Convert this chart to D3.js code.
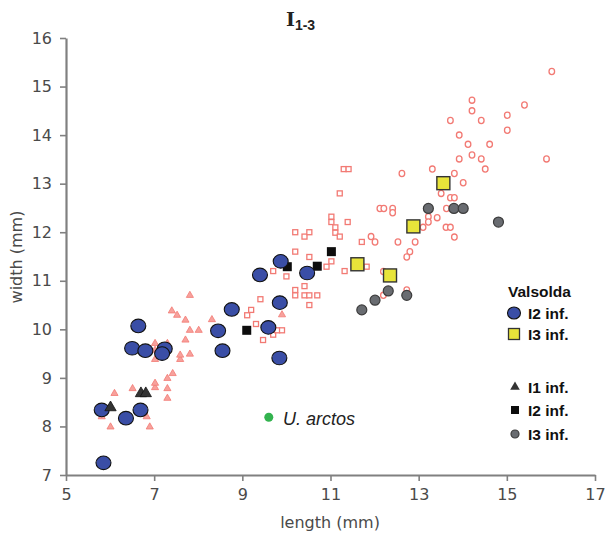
<!DOCTYPE html>
<html>
<head>
<meta charset="utf-8">
<script src="https://cdn.jsdelivr.net/npm/d3@7"></script>
<style>
body { margin: 0; background: #fff; }
</style>
</head>
<body>
<script>
const width = 608, height = 539;

const xTicks = [5, 7, 9, 11, 13, 15, 17];
const yTicks = [7, 8, 9, 10, 11, 12, 13, 14, 15, 16];

// Valsolda
const valsoldaI2 = [
    [5.81, 8.34], [5.85, 7.25], [6.36, 8.17], [6.69, 8.34], [6.64, 10.07], [6.50, 9.61],
    [6.80, 9.56], [7.24, 9.60], [7.18, 9.50], [8.45, 9.97], [8.55, 9.56], [8.76, 10.41],
    [9.59, 10.04], [9.84, 9.41], [9.85, 10.55], [9.40, 11.12], [9.87, 11.40], [10.47, 11.16]
];
const valsoldaI3 = [[13.56, 13.01], [12.88, 12.12], [11.61, 11.34], [12.35, 11.11]];

// other sites
const otherI1 = [[6.01, 8.39], [6.70, 8.68], [6.81, 8.68]];
const otherI2 = [[9.10, 9.98], [10.02, 11.29], [10.70, 11.30], [11.02, 11.60]];
const otherI3 = [
    [13.22, 12.49], [13.80, 12.49], [14.01, 12.49], [14.81, 12.21],
    [11.71, 10.40], [12.01, 10.60], [12.31, 10.79], [12.73, 10.70]
];

const arctos = [[9.60, 8.19]];

// reference samples (pink)
const refI1 = [
    [5.81, 8.20], [6.01, 7.99], [6.10, 8.68], [6.51, 8.78], [6.83, 8.20], [6.90, 7.99],
    [7.02, 8.80], [7.02, 8.89], [7.30, 8.58], [7.30, 8.78], [7.30, 8.99], [7.42, 9.09],
    [7.02, 9.38], [7.02, 9.57], [7.02, 9.71], [7.30, 9.71], [7.59, 9.38], [7.59, 9.47],
    [7.81, 9.49], [7.71, 9.78], [7.81, 9.98], [8.01, 9.98], [7.71, 10.19], [7.52, 10.29],
    [7.40, 10.38], [7.81, 10.70], [8.31, 10.20], [9.90, 10.30]
];
const refI2 = [
    [9.11, 10.29], [9.20, 10.40], [9.31, 10.11], [9.41, 10.62], [9.47, 9.78], [9.70, 9.89],
    [9.79, 9.98], [9.90, 9.98], [9.70, 11.20], [10.00, 11.09], [10.20, 10.81], [10.20, 10.70],
    [10.41, 10.70], [10.52, 10.70], [10.70, 10.70], [10.41, 10.89], [10.52, 10.50], [10.20, 11.60],
    [10.52, 11.49], [10.20, 12.00], [10.41, 11.91], [10.52, 12.00], [10.91, 11.29], [11.02, 11.40],
    [11.32, 11.20], [11.02, 12.32], [11.02, 12.21], [11.11, 12.10], [11.11, 11.99], [11.21, 11.91],
    [11.39, 12.21], [11.21, 12.80], [11.30, 13.30], [11.41, 13.30], [11.71, 11.80], [11.82, 11.29]
];
const refI3 = [
    [11.92, 11.91], [12.01, 11.80], [12.12, 12.49], [12.21, 12.49], [12.41, 12.49], [12.41, 12.40],
    [12.20, 11.19], [12.20, 10.70], [12.73, 10.81], [12.53, 11.80], [12.92, 11.80], [12.80, 11.60],
    [12.73, 11.49], [12.62, 13.21], [13.10, 12.10], [13.22, 12.32], [13.22, 12.21], [13.42, 12.30],
    [13.63, 12.49], [13.62, 12.10], [13.72, 12.10], [13.81, 11.90], [13.51, 12.80], [13.72, 12.71],
    [13.81, 12.71], [14.01, 13.02], [13.81, 13.21], [13.31, 13.30], [13.92, 13.51], [14.42, 13.51],
    [14.51, 13.30], [14.21, 13.59], [14.12, 13.81], [14.61, 13.81], [13.92, 14.00], [13.72, 14.30],
    [14.42, 14.30], [14.21, 14.50], [14.21, 14.72], [15.01, 14.41], [15.01, 14.10], [15.40, 14.62],
    [16.02, 15.31], [15.90, 13.51]
];

const PINK = "#f27a74";

const svg = d3.select("body").append("svg")
    .attr("width", width)
    .attr("height", height)
    .style("font-family", "'DejaVu Sans', Verdana, sans-serif");

const x = d3.scaleLinear().domain([5, 17]).range([66, 595]);
const y = d3.scaleLinear().domain([7, 16]).range([475, 38]);

// axes
const xAxis = svg.append("g")
    .attr("transform", "translate(0," + y(7) + ")")
    .call(d3.axisBottom(x).tickValues(xTicks).tickSize(6).tickSizeOuter(0).tickPadding(8));
const yAxis = svg.append("g")
    .attr("transform", "translate(" + x(5) + ",0)")
    .call(d3.axisLeft(y).tickValues(yTicks).tickSize(6).tickSizeOuter(0).tickPadding(8));

[xAxis, yAxis].forEach(function(a) {
    a.select(".domain").attr("stroke", "#808080").attr("stroke-width", 2.2);
    a.selectAll(".tick line").attr("stroke", "#808080").attr("stroke-width", 1.6);
    a.selectAll(".tick text")
        .attr("fill", "#4a4a4a")
        .style("font-size", "16px")
        .style("font-family", "'DejaVu Sans', Verdana, sans-serif");
});

svg.append("text")
    .attr("x", 330).attr("y", 528)
    .attr("text-anchor", "middle")
    .attr("fill", "#4a4a4a")
    .style("font-size", "16px")
    .text("length (mm)");

svg.append("text")
    .attr("transform", "translate(22,257) rotate(-90)")
    .attr("text-anchor", "middle")
    .attr("fill", "#4a4a4a")
    .style("font-size", "16px")
    .text("width (mm)");

// title
const title = svg.append("text")
    .attr("x", 286).attr("y", 26)
    .attr("fill", "#222")
    .style("font-weight", "bold");
title.append("tspan")
    .style("font-family", "'DejaVu Serif', serif")
    .style("font-size", "19px")
    .text("I");
title.append("tspan")
    .attr("dy", 4)
    .style("font-family", "'Liberation Sans', Arial, sans-serif")
    .style("font-size", "14px")
    .text("1-3");

const plot = svg.append("g");

// pink reference markers
plot.selectAll(".refI1")
    .data(refI1)
    .enter().append("path")
    .attr("d", d3.symbol().type(d3.symbolTriangle).size(22))
    .attr("transform", function(d) { return "translate(" + x(d[0]) + "," + y(d[1]) + ")"; })
    .attr("fill", "#f7a19c")
    .attr("stroke", PINK)
    .attr("stroke-width", 0.8);

plot.selectAll(".refI2")
    .data(refI2)
    .enter().append("rect")
    .attr("x", function(d) { return x(d[0]) - 2.5; })
    .attr("y", function(d) { return y(d[1]) - 2.5; })
    .attr("width", 5).attr("height", 5)
    .attr("fill", "#fff")
    .attr("stroke", PINK)
    .attr("stroke-width", 1.3);

plot.selectAll(".refI3")
    .data(refI3)
    .enter().append("ellipse")
    .attr("cx", function(d) { return x(d[0]); })
    .attr("cy", function(d) { return y(d[1]); })
    .attr("rx", 2.8).attr("ry", 3.1)
    .attr("fill", "#fff")
    .attr("stroke", PINK)
    .attr("stroke-width", 1.3);

// U. arctos
plot.selectAll(".arctos")
    .data(arctos)
    .enter().append("circle")
    .attr("cx", function(d) { return x(d[0]); })
    .attr("cy", function(d) { return y(d[1]); })
    .attr("r", 4.5)
    .attr("fill", "#33b34f");
svg.append("text")
    .attr("x", 283).attr("y", 425)
    .attr("fill", "#222")
    .style("font-family", "'Liberation Sans', Arial, sans-serif")
    .style("font-style", "italic")
    .style("font-size", "18px")
    .text("U. arctos");

// other sites
plot.selectAll(".otherI2")
    .data(otherI2)
    .enter().append("rect")
    .attr("x", function(d) { return x(d[0]) - 4.5; })
    .attr("y", function(d) { return y(d[1]) - 4.5; })
    .attr("width", 9).attr("height", 9)
    .attr("fill", "#0d0d0d");

plot.selectAll(".otherI3")
    .data(otherI3)
    .enter().append("circle")
    .attr("cx", function(d) { return x(d[0]); })
    .attr("cy", function(d) { return y(d[1]); })
    .attr("r", 5)
    .attr("fill", "#696c71")
    .attr("stroke", "#3c3c3c")
    .attr("stroke-width", 1.2);

// Valsolda
plot.selectAll(".valI3")
    .data(valsoldaI3)
    .enter().append("rect")
    .attr("x", function(d) { return x(d[0]) - 6.5; })
    .attr("y", function(d) { return y(d[1]) - 6.5; })
    .attr("width", 13).attr("height", 13)
    .attr("fill", "#e8e43a")
    .attr("stroke", "#333")
    .attr("stroke-width", 1.4);

plot.selectAll(".valI2")
    .data(valsoldaI2)
    .enter().append("ellipse")
    .attr("cx", function(d) { return x(d[0]); })
    .attr("cy", function(d) { return y(d[1]); })
    .attr("rx", 7.5).attr("ry", 6.8)
    .attr("fill", "#3a4ea6")
    .attr("stroke", "#111")
    .attr("stroke-width", 1.1);

plot.selectAll(".otherI1")
    .data(otherI1)
    .enter().append("path")
    .attr("d", d3.symbol().type(d3.symbolTriangle).size(55))
    .attr("transform", function(d) { return "translate(" + x(d[0]) + "," + y(d[1]) + ")"; })
    .attr("fill", "#333")
    .attr("stroke", "#111")
    .attr("stroke-width", 0.8);

// legend
const legend = svg.append("g")
    .style("font-family", "'Liberation Sans', Arial, sans-serif")
    .style("font-weight", "bold")
    .style("font-size", "15.5px")
    .attr("fill", "#111");

legend.append("text").attr("x", 508).attr("y", 297).text("Valsolda");

legend.append("ellipse").attr("cx", 514).attr("cy", 313).attr("rx", 6.5).attr("ry", 6)
    .attr("fill", "#3a4ea6").attr("stroke", "#111").attr("stroke-width", 1.1);
legend.append("text").attr("x", 528).attr("y", 319).text("I2 inf.");

legend.append("rect").attr("x", 508.5).attr("y", 328.5).attr("width", 11).attr("height", 11)
    .attr("fill", "#e8e43a").attr("stroke", "#333").attr("stroke-width", 1.3);
legend.append("text").attr("x", 528).attr("y", 340).text("I3 inf.");

legend.append("path")
    .attr("d", d3.symbol().type(d3.symbolTriangle).size(40))
    .attr("transform", "translate(515,387)")
    .attr("fill", "#333");
legend.append("text").attr("x", 528).attr("y", 393).text("I1 inf.");

legend.append("rect").attr("x", 511).attr("y", 406).attr("width", 8).attr("height", 8)
    .attr("fill", "#0d0d0d");
legend.append("text").attr("x", 528).attr("y", 416).text("I2 inf.");

legend.append("circle").attr("cx", 515).attr("cy", 434).attr("r", 4)
    .attr("fill", "#696c71").attr("stroke", "#3c3c3c").attr("stroke-width", 1.2);
legend.append("text").attr("x", 528).attr("y", 440).text("I3 inf.");
</script>
</body>
</html>
